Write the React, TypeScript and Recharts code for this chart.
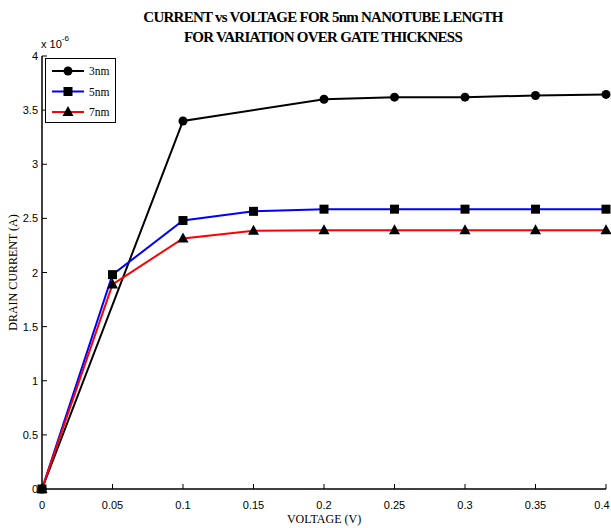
import { LineChart, Line, XAxis, YAxis, Legend } from "recharts";

const voltage = [0, 0.05, 0.1, 0.15, 0.2, 0.25, 0.3, 0.35, 0.4];
// drain current, in units of 1e-6 A (null = no sample)
const gate3nm = [0, null, 3.4, null, 3.6, 3.62, 3.62, 3.635, 3.645];
const gate5nm = [0, 1.98, 2.48, 2.565, 2.585, 2.585, 2.585, 2.585, 2.585];
const gate7nm = [0, 1.89, 2.315, 2.385, 2.39, 2.39, 2.39, 2.39, 2.39];
const xTicks = [0, 0.05, 0.1, 0.15, 0.2, 0.25, 0.3, 0.35, 0.4];
const yTicks = [0, 0.5, 1, 1.5, 2, 2.5, 3, 3.5, 4];

const chartData = voltage.map((v, i) => ({
  v,
  g3: gate3nm[i],
  g5: gate5nm[i],
  g7: gate7nm[i],
}));

const sans = "'Liberation Sans', Arial, sans-serif";
const serif = "'Liberation Serif', 'Times New Roman', serif";

const fmt = (n: number) => String(Number(n.toFixed(2)));

const BottomTick = (props: any) => {
  const { x, y, payload } = props;
  // keep the last label inside the picture
  const tx = Math.min(x, 611 - 9);
  return (
    <g>
      <line x1={x} y1={y} x2={x} y2={y - 5} stroke="#000" strokeWidth={1} />
      <text x={tx} y={y + 20} textAnchor="middle" fontSize={11} fontFamily={sans} fill="#000">
        {fmt(payload.value)}
      </text>
    </g>
  );
};

const TopTick = (props: any) => {
  const { x, y } = props;
  return <line x1={x} y1={y} x2={x} y2={y + 5} stroke="#000" strokeWidth={1} />;
};

const LeftTick = (props: any) => {
  const { x, y, payload } = props;
  return (
    <g>
      <line x1={x} y1={y} x2={x + 5} y2={y} stroke="#000" strokeWidth={1} />
      <text x={x - 4} y={y + 4} textAnchor="end" fontSize={11} fontFamily={sans} fill="#000">
        {fmt(payload.value)}
      </text>
    </g>
  );
};

const RightTick = (props: any) => {
  const { x, y } = props;
  return <line x1={x} y1={y} x2={x - 5} y2={y} stroke="#000" strokeWidth={1} />;
};

const Circle = (props: any) => {
  const { cx, cy, value } = props;
  if (value == null || cx == null || cy == null) return <g />;
  return <circle cx={cx} cy={cy} r={4.5} fill="#000" />;
};

const Square = (props: any) => {
  const { cx, cy, value } = props;
  if (value == null || cx == null || cy == null) return <g />;
  return <rect x={cx - 4.5} y={cy - 4.5} width={9} height={9} fill="#000" />;
};

const Triangle = (props: any) => {
  const { cx, cy, value } = props;
  if (value == null || cx == null || cy == null) return <g />;
  return <polygon points={`${cx},${cy - 6} ${cx - 5.5},${cy + 4} ${cx + 5.5},${cy + 4}`} fill="#000" />;
};

const legendItems = [
  { name: "3nm", color: "#000", marker: "circle" },
  { name: "5nm", color: "#0000ff", marker: "square" },
  { name: "7nm", color: "#ff0000", marker: "triangle" },
];

const LegendBox = () => (
  <svg width={71} height={66}>
    <rect x={0.5} y={0.5} width={70} height={64} fill="#fff" stroke="#000" strokeWidth={1} />
    {legendItems.map((it, i) => {
      const cy = 13 + i * 20.5;
      return (
        <g key={it.name}>
          <line x1={7} y1={cy} x2={39} y2={cy} stroke={it.color} strokeWidth={2} />
          {it.marker === "circle" && <circle cx={23} cy={cy} r={4.5} fill="#000" />}
          {it.marker === "square" && <rect x={18.5} y={cy - 4.5} width={9} height={9} fill="#000" />}
          {it.marker === "triangle" && (
            <polygon points={`23,${cy - 6} 17.5,${cy + 4} 28.5,${cy + 4}`} fill="#000" />
          )}
          <text x={44} y={cy + 4} fontSize={11.5} fontFamily={serif} fill="#000">
            {it.name}
          </text>
        </g>
      );
    })}
  </svg>
);

export default function App() {
  return (
    <div style={{ position: "absolute", left: 0, top: 0, width: 611, height: 528, background: "#fff" }}>
      <div
        style={{
          position: "absolute",
          left: 0,
          top: 7,
          width: 646,
          textAlign: "center",
          fontFamily: serif,
          fontWeight: "bold",
          fontSize: 15,
          lineHeight: "20px",
          letterSpacing: -0.75,
          color: "#000",
        }}
      >
        CURRENT vs VOLTAGE FOR 5nm NANOTUBE LENGTH
        <br />
        FOR VARIATION OVER GATE THICKNESS
      </div>
      <div style={{ position: "absolute", left: 41, top: 36, fontFamily: sans, fontSize: 11, color: "#000" }}>
        x 10<sup style={{ fontSize: 8, position: "relative", top: -2 }}>-6</sup>
      </div>
      <LineChart width={611} height={528} data={chartData} margin={{ top: 56, right: 5, left: 0, bottom: 0 }}>
        <XAxis
          dataKey="v"
          type="number"
          domain={[0, 0.4]}
          ticks={xTicks}
          interval={0}
          height={39}
          tickSize={0}
          tickMargin={0}
          tickLine={false}
          tick={<BottomTick />}
          axisLine={{ stroke: "#000", strokeWidth: 1.5 }}
          label={{ value: "VOLTAGE (V)", position: "insideBottom", offset: 5, fontFamily: serif, fontSize: 12, fill: "#000" }}
        />
        <XAxis
          xAxisId="top"
          orientation="top"
          dataKey="v"
          type="number"
          domain={[0, 0.4]}
          ticks={xTicks}
          interval={0}
          height={0}
          tickSize={0}
          tickMargin={0}
          tickLine={false}
          tick={<TopTick />}
          axisLine={{ stroke: "#000", strokeWidth: 1.5 }}
        />
        <YAxis
          type="number"
          domain={[0, 4]}
          ticks={yTicks}
          interval={0}
          width={42}
          tickSize={0}
          tickMargin={0}
          tickLine={false}
          tick={<LeftTick />}
          axisLine={{ stroke: "#000", strokeWidth: 1.5 }}
          label={{
            value: "DRAIN CURRENT (A)",
            angle: -90,
            position: "insideLeft",
            offset: 13,
            style: { textAnchor: "middle" },
            fontFamily: serif,
            fontSize: 12,
            fill: "#000",
          }}
        />
        <YAxis
          yAxisId="right"
          orientation="right"
          type="number"
          domain={[0, 4]}
          allowDataOverflow
          ticks={yTicks}
          interval={0}
          width={0}
          tickSize={0}
          tickMargin={0}
          tickLine={false}
          tick={<RightTick />}
          axisLine={{ stroke: "#000", strokeWidth: 1.5 }}
        />
        <Legend
          layout="vertical"
          align="center"
          verticalAlign="middle"
          content={<LegendBox />}
          wrapperStyle={{ left: 45, top: 58, width: 71, height: 66 }}
        />
        <Line
          dataKey="g3"
          name="3nm"
          stroke="#000"
          strokeWidth={2}
          connectNulls
          dot={<Circle />}
          activeDot={false}
          isAnimationActive={false}
        />
        <Line
          dataKey="g5"
          name="5nm"
          stroke="#0000ff"
          strokeWidth={2}
          dot={<Square />}
          activeDot={false}
          isAnimationActive={false}
        />
        <Line
          dataKey="g7"
          name="7nm"
          stroke="#ff0000"
          strokeWidth={2}
          dot={<Triangle />}
          activeDot={false}
          isAnimationActive={false}
        />
      </LineChart>
    </div>
  );
}
